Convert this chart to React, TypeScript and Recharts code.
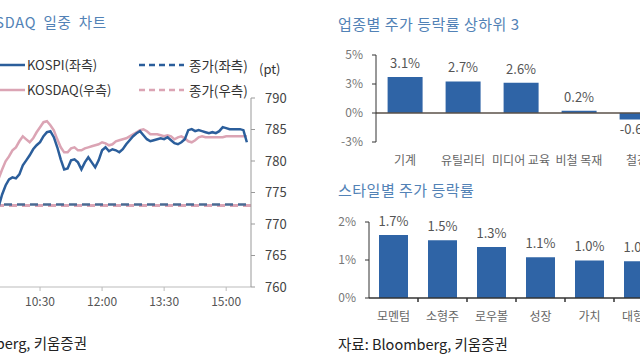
import { LineChart, Line, XAxis, YAxis, ReferenceLine, BarChart, Bar, LabelList } from 'recharts'

const FONT = "'Noto Sans CJK KR', 'Noto Sans', sans-serif"
const TITLE_COLOR = '#5282b6'
const KOSPI_BLUE = '#2b5e9b'
const KOSDAQ_PINK = '#dba4b4'
const BAR_BLUE = '#2f64a6'

// 일중 (5분 간격, 09:00 ~ 15:30)
const kospi = [
  2084.57, 2083.94, 2083.3, 2083.94, 2084.57, 2084.89, 2085.53, 2089.36, 2092.23, 2094.15,
  2094.79, 2094.47, 2095.74, 2098.62, 2100.21, 2101.81, 2103.72, 2105.0, 2105.96, 2107.87,
  2109.15, 2109.47, 2107.55, 2104.36, 2100.53, 2097.34, 2097.66, 2100.21, 2100.53, 2099.57,
  2097.34, 2099.57, 2101.17, 2099.57, 2097.98, 2100.21, 2103.4, 2104.36, 2103.09, 2103.72,
  2103.4, 2102.77, 2103.72, 2105.32, 2106.6, 2107.87, 2108.83, 2109.47, 2108.19, 2106.92,
  2106.28, 2106.6, 2106.92, 2107.23, 2106.92, 2107.55, 2106.6, 2105.64, 2105.32, 2105.96,
  2106.92, 2109.79, 2110.11, 2109.47, 2109.79, 2109.47, 2109.15, 2108.83, 2109.15, 2108.83,
  2109.47, 2110.75, 2110.43, 2110.11, 2110.11, 2110.11, 2110.11, 2109.79, 2105.96,
]
const kosdaq = [
  773.88, 774.67, 775.15, 775.79, 776.11, 776.75, 777.22, 778.66, 779.94, 780.73,
  781.69, 782.17, 783.13, 783.92, 783.44, 782.97, 783.6, 784.56, 785.36, 786.16,
  786.32, 785.68, 784.88, 783.44, 782.17, 781.37, 781.37, 782.01, 782.17, 781.69,
  781.69, 782.01, 782.17, 782.33, 782.49, 782.65, 782.97, 782.81, 782.49, 782.65,
  783.13, 783.29, 783.44, 783.6, 783.92, 784.24, 784.56, 784.88, 785.04, 784.72,
  784.24, 784.24, 784.24, 784.08, 783.92, 784.08, 783.92, 783.44, 783.76, 783.92,
  783.6, 783.13, 782.97, 783.29, 783.76, 783.92, 783.76, 783.76, 783.76, 783.76,
  783.76, 783.76, 783.92, 783.92, 783.92, 783.92, 783.92, 783.92, 783.92,
]
const kospiPrevClose = 2086.2
const kosdaqPrevClose = 772.95
const timeTicks = [0, 90, 180, 270, 360]
const kosdaqTicks = [760, 765, 770, 775, 780, 785, 790]

// 업종별 주가 등락률 상하위 3
const sectorNames = ['기계', '유틸리티', '미디어 교육', '비철 목재', '철강']
const sectorChanges = [3.1, 2.72, 2.6, 0.2, -0.56]
const sectorTicks = [-2.5, 0, 2.5, 5]

// 스타일별 주가 등락률
const styleNames = ['모멘텀', '소형주', '로우볼', '성장', '가치', '대형주']
const styleChanges = [1.66, 1.52, 1.34, 1.07, 0.99, 0.97]
const styleTicks = [0, 1, 2]

const intraday = kospi.map((v, i) => ({ t: i * 5, kospi: v, kosdaq: kosdaq[i] }))
const sectors = sectorNames.map((name, i) => ({ name, v: sectorChanges[i] }))
const styles = styleNames.map((name, i) => ({ name, v: styleChanges[i] }))

const fmtTime = (m: number) => `${9 + Math.floor(m / 60)}:${String(m % 60).padStart(2, '0')}`

const barLabel = (props: any) => {
  const { x, y, width, height, value } = props
  const top = Math.min(y, y + height)
  const bottom = Math.max(y, y + height)
  const cx = x + width / 2
  const txt = `${Number(value).toFixed(1)}%`
  return value >= 0 ? (
    <text x={cx} y={top - 9} textAnchor="middle" fontSize={13} fill="#555" fontFamily={FONT}>{txt}</text>
  ) : (
    <text x={cx} y={bottom + 15} textAnchor="middle" fontSize={13} fill="#555" fontFamily={FONT}>{txt}</text>
  )
}

const STYLE_BAND = 49
const StyleTick = (props: any) => {
  const { x, y, payload } = props
  return (
    <g>
      <line x1={x + STYLE_BAND / 2} x2={x + STYLE_BAND / 2} y1={y - 14} y2={y - 10} stroke="#333" strokeWidth={1.5} />
      <text x={x} y={y} dy="0.71em" textAnchor="middle" fontSize={12} fill="#666" fontFamily={FONT}>{payload.value}</text>
    </g>
  )
}

const abs = (left: number, top: number, extra: any = {}) => ({
  position: 'absolute' as const, left, top, whiteSpace: 'nowrap' as const, ...extra,
})

export default function App() {
  return (
    <div style={{ position: 'fixed', left: 0, top: 0, width: 640, height: 360, overflow: 'hidden', background: '#fff', fontFamily: FONT }}>
      {/* 왼쪽: 일중 차트 */}
      <div style={{ position: 'absolute', right: 533, top: 11, fontSize: 14.5, lineHeight: '22px', color: TITLE_COLOR, whiteSpace: 'nowrap', wordSpacing: 3, letterSpacing: 0.8 }}>
        KOSPI, KOSDAQ 일중 차트
      </div>

      <svg style={abs(0, 55)} width={300} height={45}>
        <line x1={-5} x2={25} y1={10} y2={10} stroke={KOSPI_BLUE} strokeWidth={2.5} />
        <line x1={-5} x2={25} y1={35} y2={35} stroke={KOSDAQ_PINK} strokeWidth={2.5} />
        <line x1={139} x2={184} y1={10} y2={10} stroke={KOSPI_BLUE} strokeWidth={2.5} strokeDasharray="6 4" />
        <line x1={139} x2={184} y1={35} y2={35} stroke={KOSDAQ_PINK} strokeWidth={2.5} strokeDasharray="6 4" />
      </svg>
      <div style={abs(27, 55, { fontSize: 13, lineHeight: '20px', color: '#333' })}>KOSPI(좌측)</div>
      <div style={abs(27, 80, { fontSize: 13, lineHeight: '20px', color: '#333' })}>KOSDAQ(우측)</div>
      <div style={abs(189, 55, { fontSize: 13.5, lineHeight: '20px', color: '#333' })}>종가(좌측)</div>
      <div style={abs(189, 80, { fontSize: 13.5, lineHeight: '20px', color: '#333' })}>종가(우측)</div>
      <div style={abs(259, 59, { fontSize: 13, lineHeight: '20px', color: '#333' })}>(pt)</div>

      <div style={abs(-22, 88)}>
        <LineChart width={313} height={229} data={intraday} margin={{ top: 10, right: 0, bottom: 0, left: 0 }}>
          <XAxis
            dataKey="t"
            type="number"
            domain={[0, 396]}
            ticks={timeTicks}
            tickFormatter={fmtTime}
            stroke="#bbb"
            tickSize={4}
            tickMargin={6}
            height={30}
            tick={{ fontSize: 12, fill: '#555', fontFamily: FONT }}
          />
          <YAxis yAxisId="left" hide domain={[2060, 2120]} />
          <YAxis
            yAxisId="right"
            orientation="right"
            domain={[760, 790]}
            ticks={kosdaqTicks}
            width={40}
            stroke="#999"
            tickSize={4}
            tickMargin={10}
            tick={{ fontSize: 13, fill: '#444', fontFamily: FONT, textAnchor: 'start' }}
          />
          <ReferenceLine yAxisId="right" y={kosdaqPrevClose} stroke={KOSDAQ_PINK} strokeWidth={3} strokeDasharray="8 5" />
          <ReferenceLine yAxisId="left" y={kospiPrevClose} stroke="#4a6a93" strokeWidth={2.5} strokeDasharray="8 5" />
          <Line yAxisId="right" dataKey="kosdaq" stroke={KOSDAQ_PINK} strokeWidth={2.5} dot={false} isAnimationActive={false} />
          <Line yAxisId="left" dataKey="kospi" stroke={KOSPI_BLUE} strokeWidth={2.5} dot={false} isAnimationActive={false} />
        </LineChart>
      </div>

      <div style={{ position: 'absolute', right: 553, top: 332, fontSize: 14.5, lineHeight: '22px', color: '#222', whiteSpace: 'nowrap' }}>
        자료: Bloomberg, 키움증권
      </div>

      {/* 오른쪽 위: 업종별 */}
      <div style={abs(338, 13, { fontSize: 15, lineHeight: '22px', color: TITLE_COLOR, letterSpacing: 0.5 })}>업종별 주가 등락률 상하위 3</div>
      <div style={abs(336, 35)}>
        <BarChart width={330} height={137} data={sectors} margin={{ top: 20, right: 0, bottom: 0, left: 0 }} barCategoryGap="20%">
          <XAxis
            dataKey="name"
            axisLine={false}
            tickLine={false}
            tickMargin={8}
            height={30}
            interval={0}
            tick={{ fontSize: 12, fill: '#666', fontFamily: FONT }}
          />
          <YAxis
            domain={[-2.5, 5]}
            ticks={sectorTicks}
            width={40}
            stroke="#333"
            tickSize={4}
            tickMargin={9}
            tickFormatter={(v: number) => `${v.toFixed(0)}%`}
            tick={{ fontSize: 12, fill: '#777', fontFamily: FONT }}
          />
          <ReferenceLine y={0} stroke="#5a5048" strokeWidth={1.5} />
          <Bar dataKey="v" fill={BAR_BLUE} isAnimationActive={false}>
            <LabelList dataKey="v" content={barLabel} />
          </Bar>
        </BarChart>
      </div>

      {/* 오른쪽 아래: 스타일별 */}
      <div style={abs(338, 179, { fontSize: 15, lineHeight: '22px', color: TITLE_COLOR, letterSpacing: 0.5 })}>스타일별 주가 등락률</div>
      <div style={abs(329, 202)}>
        <BarChart width={334} height={126} data={styles} margin={{ top: 20, right: 0, bottom: 0, left: 0 }} barCategoryGap="20%">
          <XAxis
            dataKey="name"
            stroke="#333"
            strokeWidth={1.5}
            tickLine={false}
            tickSize={0}
            tickMargin={14}
            height={30}
            interval={0}
            tick={<StyleTick />}
          />
          <YAxis
            domain={[0, 2]}
            ticks={styleTicks}
            width={40}
            stroke="#333"
            tickSize={4}
            tickMargin={9}
            tickFormatter={(v: number) => `${v}%`}
            tick={{ fontSize: 12, fill: '#777', fontFamily: FONT }}
          />
          <Bar dataKey="v" fill={BAR_BLUE} barSize={29} isAnimationActive={false}>
            <LabelList dataKey="v" content={barLabel} />
          </Bar>
        </BarChart>
      </div>

      <div style={abs(338, 333, { fontSize: 14.5, lineHeight: '22px', color: '#222' })}>자료: Bloomberg, 키움증권</div>
    </div>
  )
}
